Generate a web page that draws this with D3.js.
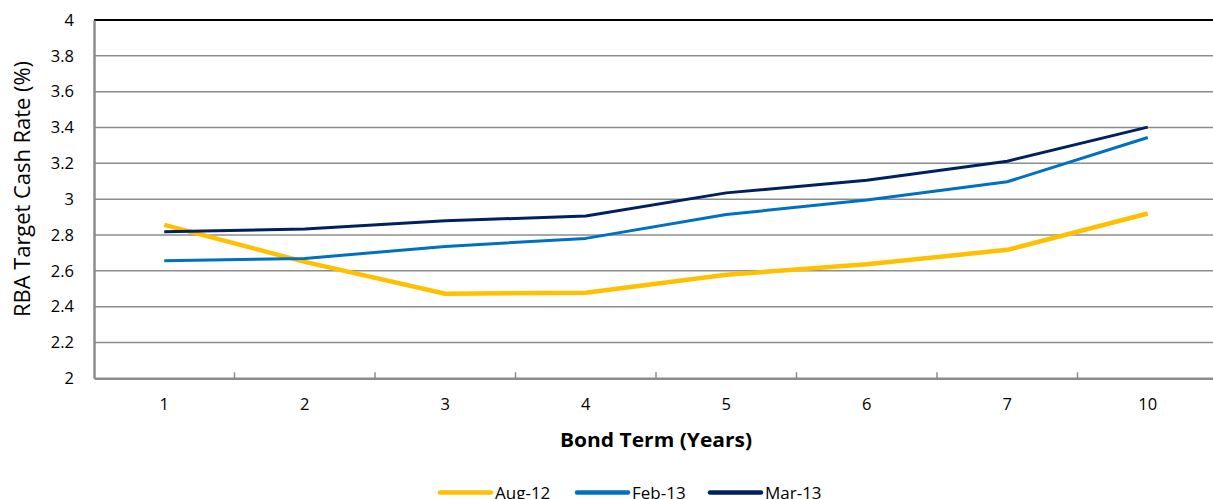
<!DOCTYPE html>
<html><head><meta charset="utf-8">
<script src="https://cdn.jsdelivr.net/npm/d3@7/dist/d3.min.js"></script>
<style>
body{margin:0;background:#fff;}
svg{display:block;font-family:"Open Sans",sans-serif;}
</style></head>
<body><svg id="c" width="1213" height="499"></svg>
<script>
const categories = ["1","2","3","4","5","6","7","10"];
const aug12 = [2.856, 2.65, 2.472, 2.477, 2.578, 2.636, 2.717, 2.92];
const feb13 = [2.656, 2.669, 2.736, 2.781, 2.914, 2.995, 3.097, 3.344];
const mar13 = [2.818, 2.833, 2.879, 2.906, 3.035, 3.106, 3.212, 3.402];
const yTicks = [2, 2.2, 2.4, 2.6, 2.8, 3, 3.2, 3.4, 3.6, 3.8, 4];
const seriesNames = ["Aug-12", "Feb-13", "Mar-13"];
const seriesColors = ["#FFC000", "#0070C0", "#002060"];
const seriesWidths = [4.5, 3, 3];
const series = [aug12, feb13, mar13];

const svg = d3.select("#c");
const L = 94, R = 1218, T = 20, B = 378.3;
const x = d3.scaleBand().domain(categories).range([L, R]);
const y = d3.scaleLinear().domain([2, 4]).range([B, T]);

// gridlines
svg.append("g").selectAll("line").data(yTicks.filter(d => d > 2)).join("line")
  .attr("x1", L).attr("x2", 1213)
  .attr("y1", d => y(d)).attr("y2", d => y(d))
  .attr("stroke", d => d === 4 ? "#000" : "#8c8c8c")
  .attr("stroke-width", d => d === 4 ? 2 : 1.5);

// y axis
const ya = svg.append("g").attr("transform", `translate(${L},0)`)
  .call(d3.axisLeft(y).tickValues(yTicks).tickSize(0).tickPadding(20).tickFormat(d3.format("")));
ya.select(".domain").attr("stroke", "#8c8c8c").attr("stroke-width", 2.5);
ya.selectAll("text").attr("font-size", 16.5).attr("fill", "#000").attr("font-family", "Open Sans");

// x axis
const xa = svg.append("g").attr("transform", `translate(0,${B})`)
  .call(d3.axisBottom(x).tickSize(0).tickPadding(20));
xa.select(".domain").attr("stroke", "#8c8c8c").attr("stroke-width", 2.5);
xa.selectAll("text").attr("font-size", 16.5).attr("fill", "#000").attr("font-family", "Open Sans");
// tick marks at band boundaries (inside)
svg.append("g").selectAll("line").data(categories.slice(1)).join("line")
  .attr("x1", d => x(d)).attr("x2", d => x(d))
  .attr("y1", B).attr("y2", B - 6)
  .attr("stroke", "#8c8c8c").attr("stroke-width", 1.5);

// lines
const line = d3.line().x((d, i) => x(categories[i]) + x.bandwidth() / 2).y(d => y(d));
series.forEach((s, k) => {
  svg.append("path").datum(s).attr("d", line)
    .attr("fill", "none").attr("stroke", seriesColors[k])
    .attr("stroke-width", seriesWidths[k]).attr("stroke-linejoin", "round");
});

// axis titles
svg.append("text").attr("transform", `translate(30,189) rotate(-90)`)
  .attr("text-anchor", "middle").attr("font-size", 21)
  .attr("textLength", 256).attr("lengthAdjust", "spacingAndGlyphs").text("RBA Target Cash Rate (%)");
svg.append("text").attr("x", 656).attr("y", 447)
  .attr("text-anchor", "middle").attr("font-size", 20).attr("font-weight", "bold")
  .attr("textLength", 192).attr("lengthAdjust", "spacingAndGlyphs").text("Bond Term (Years)");

// legend
const legX = [440, 577, 710];
const lg = svg.append("g");
seriesNames.forEach((n, k) => {
  lg.append("line").attr("x1", legX[k]).attr("x2", legX[k] + 51)
    .attr("y1", 492.5).attr("y2", 492.5)
    .attr("stroke", seriesColors[k]).attr("stroke-width", 4.5).attr("stroke-linecap", "round");
  lg.append("text").attr("x", legX[k] + 55).attr("y", 499).attr("font-size", 17).text(n);
});
</script></body></html>
